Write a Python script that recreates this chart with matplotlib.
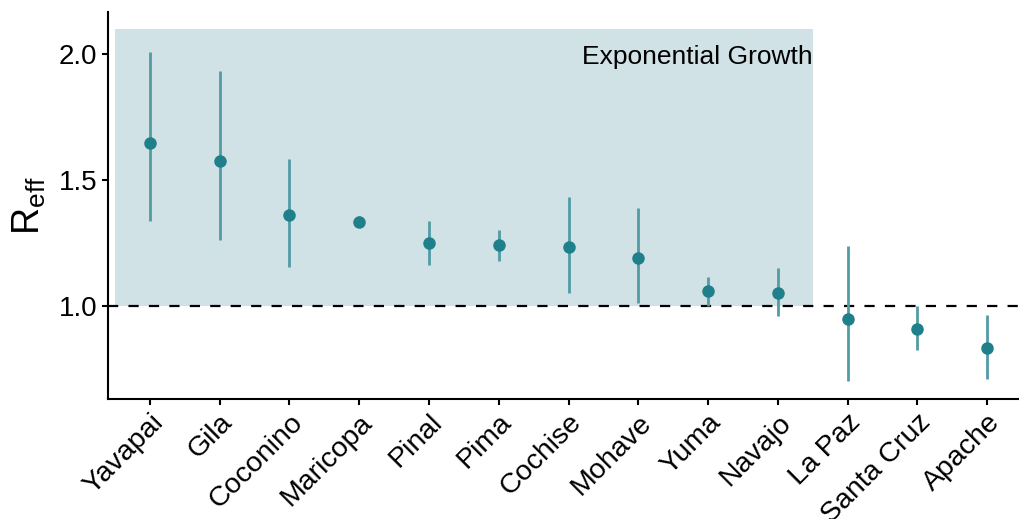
import matplotlib
matplotlib.use('Agg')
import matplotlib.pyplot as plt
import matplotlib.patches as mpatches

plt.rcParams['font.family'] = ['Liberation Sans', 'DejaVu Sans']
plt.rcParams['mathtext.fontset'] = 'custom'
plt.rcParams['mathtext.rm'] = 'Liberation Sans'
plt.rcParams['mathtext.it'] = 'Liberation Sans'

# counties and R_eff estimates with intervals
counties = ['Yavapai', 'Gila', 'Coconino', 'Maricopa', 'Pinal', 'Pima', 'Cochise',
            'Mohave', 'Yuma', 'Navajo', 'La Paz', 'Santa Cruz', 'Apache']
reff = [1.649, 1.574, 1.360, 1.335, 1.251, 1.241, 1.233, 1.192, 1.058, 1.053, 0.948, 0.910, 0.835]
lower = [1.339, 1.263, 1.154, 1.313, 1.163, 1.180, 1.053, 1.011, 1.000, 0.959, 0.703, 0.825, 0.710]
upper = [2.007, 1.934, 1.583, 1.356, 1.338, 1.302, 1.431, 1.389, 1.116, 1.152, 1.240, 1.000, 0.965]
growth_n = 10  # first counties shaded as exponential growth
growth_top = 2.1

pt_col = '#1f808b'
bar_col = '#519ca5'
shade = '#d0e2e5'

fig = plt.figure(figsize=(10.2, 5.19), dpi=100)
ax = fig.add_axes([0.1059, 0.2312, 0.8941, 0.7457])

x = list(range(len(counties)))
ax.add_patch(mpatches.Rectangle((-0.5, 1.0), growth_n, growth_top - 1.0,
                                facecolor=shade, edgecolor='none', zorder=0))
ax.text(growth_n - 0.5, 1.99, 'Exponential Growth', ha='right', va='center', fontsize=19)
ax.axhline(1.0, color='black', lw=1.6, ls=(0, (4.6, 4.6)), zorder=1)
ax.vlines(x, lower, upper, color=bar_col, lw=2.0, zorder=2)
ax.plot(x, reff, 'o', color=pt_col, ms=8, zorder=3)

ax.set_xlim(-0.6, 12.47)
ax.set_ylim(0.631, 2.167)
ax.set_yticks([1.0, 1.5, 2.0])
ax.set_yticklabels(['1.0', '1.5', '2.0'], fontsize=20)
ax.set_xticks(x)
ax.set_xticklabels(counties, rotation=45, ha='right', va='top', fontsize=20.5,
                   rotation_mode='anchor')
ax.set_ylabel(r'$\mathrm{R}_{\mathrm{eff}}$', fontsize=27, labelpad=8)
for s in ['top', 'right']:
    ax.spines[s].set_visible(False)
for s in ['left', 'bottom']:
    ax.spines[s].set_linewidth(1.5)
ax.tick_params(length=4.5, width=1.5, color='black', pad=3)

plt.savefig('out.png', dpi=100)
